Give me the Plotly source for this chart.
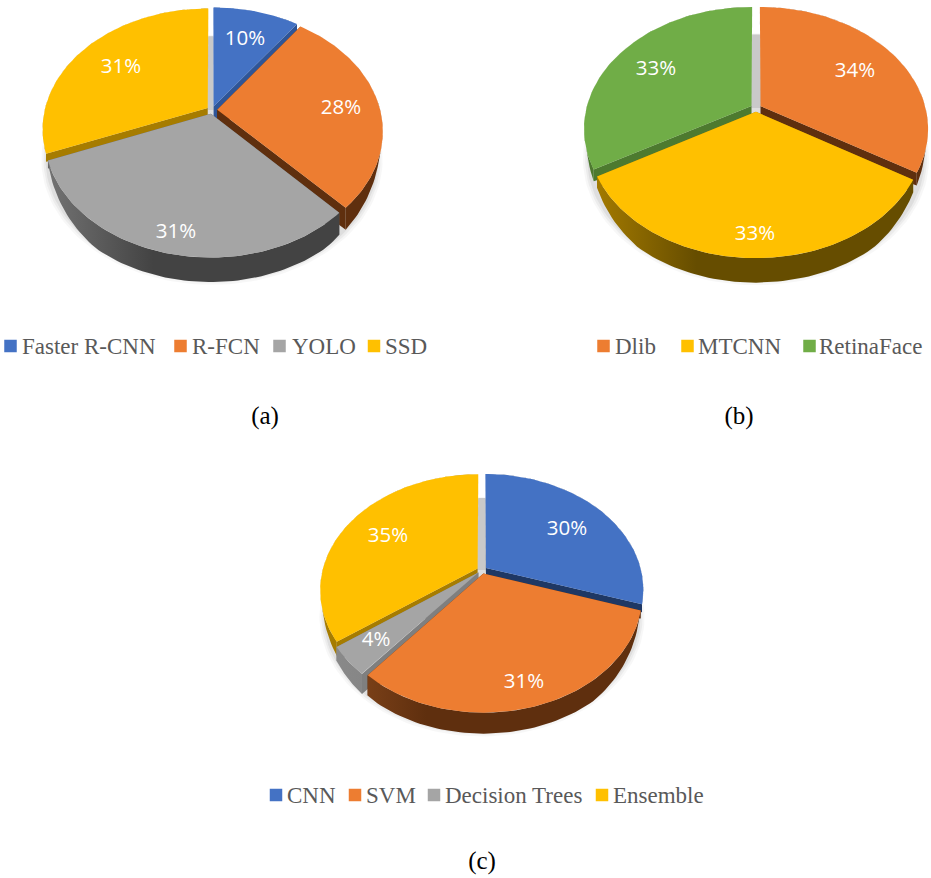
import numpy as np
import plotly.graph_objects as go

# ---- data ----
cats_a = ["Faster R-CNN", "R-FCN", "YOLO", "SSD"]
vals_a = [10, 28, 31, 31]
cats_b = ["Dlib", "MTCNN", "RetinaFace"]
vals_b = [33.6, 33.2, 33.2]
cats_c = ["CNN", "SVM", "Decision Trees", "Ensemble"]
vals_c = [30, 31, 4, 35]
captions = ["(a)", "(b)", "(c)"]

# ---- styles ----
BLUE, ORANGE, GREY, YELLOW, GREEN = "#4472c4", "#ed7d31", "#a5a5a5", "#ffc000", "#70ad47"
TEXT_FONT = "Open Sans"
LEG_FONT = "Liberation Serif"

pies = [
    dict(cats=cats_a, vals=vals_a, cx=212, cy=110, a=163, b=117.4, k=0.174, h=24.5, e=0.032,
         colors=[BLUE, ORANGE, GREY, YELLOW],
         band=["#2f5597", "#5f2f0e", "#636363", "#a67c00"],
         rim=[("#2f5597", "#2f5597"), ("#7a3f17", "#5f2f0e"), ("#727272", "#434343"), ("#a67c00", "#a67c00")],
         order=[0, 3, 1, 2],
         label_xy=[(245, 40), (341, 109), (176, 233), (121, 68)],
         leg_sq=[10.5, 180.5, 279.5, 374], leg_tx=[22, 192, 292, 385], leg_y=348,
         cap_xy=(265, 418)),
    dict(cats=cats_b, vals=vals_b, cx=756, cy=108, a=165, b=118, k=0.183, h=24.5, e=0.032,
         colors=[ORANGE, YELLOW, GREEN],
         band=["#5f2f0e", "#a67c00", "#4d7a2f"],
         rim=[("#7a3f17", "#5f2f0e"), ("#a67c00", "#664d00"), ("#4d7a2f", "#4d7a2f")],
         order=[0, 2, 1],
         label_xy=[(855, 72), (755, 235), (656, 70)],
         leg_sq=[603.5, 687.5, 809.5], leg_tx=[615, 698, 819], leg_y=348,
         cap_xy=(739, 418)),
    dict(cats=cats_c, vals=vals_c, cx=482, cy=570, a=155, b=112, k=0.185, h=21, e=0.032,
         colors=[BLUE, ORANGE, GREY, YELLOW],
         band=["#1f3864", "#5f2f0e", "#7f7f7f", "#a67c00"],
         rim=[("#1f3864", "#1f3864"), ("#8a4a1e", "#5f2f0e"), ("#8a8a8a", "#7f7f7f"), ("#a67c00", "#a67c00")],
         order=[0, 3, 2, 1],
         label_xy=[(567, 530), (524, 683), (376, 641), (388, 537)],
         leg_sq=[276, 355, 434, 602], leg_tx=[287, 366, 445, 613], leg_y=797,
         cap_xy=(482, 863)),
]


def project(p, u, v, drop=0.0):
    """Perspective projection of a unit-disc point onto the page (pixel axes)."""
    u, v = np.asarray(u, float), np.asarray(v, float)
    w = 1 + p["k"] * v
    x = p["cx"] + p["a"] * u / w
    y = p["cy"] - p["b"] * v / w + drop
    return x, y


def rim_drop(p, t):
    """Visible rim height: none at the back and sides, full at the front."""
    return p["h"] * np.clip((-np.cos(t) - 0.37) / 0.43, 0, 1) ** 0.6


def poly(xs, ys, color, gradient=None):
    kw = {}
    if gradient:
        kw["fillgradient"] = gradient
    else:
        kw["fillcolor"] = color
    return go.Scatter(x=list(xs), y=list(ys), mode="lines", fill="toself",
                      line=dict(width=0), hoverinfo="skip", showlegend=False, **kw)


fig = go.Figure()

for p in pies:
    fr = np.array(p["vals"], float) / sum(p["vals"])
    ends = np.cumsum(fr) * 2 * np.pi
    starts = ends - fr * 2 * np.pi
    mids = (starts + ends) / 2

    # soft ground shadow
    t = np.linspace(0, 2 * np.pi, 180)
    for grow, alpha in [(1.03, 0.03), (1.018, 0.045), (1.006, 0.06)]:
        sx, sy = project(p, grow * np.sin(t), grow * np.cos(t), p["h"] + 3)
        fig.add_trace(poly(sx, sy, f"rgba(0,0,0,{alpha})"))

    # pale core seen through the gap at the back
    e = p["e"]
    g_u = [e * np.sin(mids[-1]), e * np.sin(mids[0]), e * np.sin(mids[0]), e * np.sin(mids[-1])]
    g_v = [0.0, 0.0, 0.98, 0.98]
    gx, gy = project(p, g_u, g_v)
    gy = np.array(gy) + np.array([0, 0, p["h"], p["h"]])
    fig.add_trace(poly(gx, gy, "#c9c9c9"))

    for i in p["order"]:
        ox, oy = e * np.sin(mids[i]), e * np.cos(mids[i])
        t = np.linspace(starts[i], ends[i], 80)
        u, v = ox + np.sin(t), oy + np.cos(t)
        xa, ya = project(p, u, v)
        x0, y0 = project(p, ox, oy)
        drop = rim_drop(p, t)
        xd, yd = project(p, u, v, drop)
        x0d, y0d = project(p, ox, oy, p["h"])

        # radial cut faces
        for j in (0, -1):
            ed = max(drop[j], 8)
            fig.add_trace(poly([x0, xa[j], xa[j], x0d], [y0, ya[j], ya[j] + ed, y0d], p["band"][i]))

        # outer rim
        light, dark = p["rim"][i]
        x_left = p["cx"] - p["a"]
        grad = dict(type="horizontal", start=x_left, stop=p["cx"] + p["a"],
                    colorscale=[[0, light], [0.32, dark], [1, dark]])
        fig.add_trace(poly(np.r_[xa, xd[::-1]], np.r_[ya, yd[::-1]], dark, grad))

        # top surface
        fig.add_trace(poly(np.r_[x0, xa], np.r_[y0, ya], p["colors"][i]))

    # percentage labels
    lx, ly = zip(*p["label_xy"])
    fig.add_trace(go.Scatter(x=lx, y=ly, mode="text", text=[f"{v:.0f}%" for v in p["vals"]],
                             textposition="middle center", hoverinfo="skip", showlegend=False,
                             textfont=dict(family=TEXT_FONT, size=20.5, color="white")))

    # legend
    fig.add_trace(go.Scatter(x=p["leg_sq"], y=[p["leg_y"] - 2] * len(p["cats"]), mode="markers",
                             marker=dict(symbol="square", size=12.5, color=p["colors"], line=dict(width=0)),
                             hoverinfo="skip", showlegend=False))
    fig.add_trace(go.Scatter(x=p["leg_tx"], y=[p["leg_y"]] * len(p["cats"]), mode="text", text=p["cats"],
                             textposition="middle right", hoverinfo="skip", showlegend=False,
                             textfont=dict(family=LEG_FONT, size=23, color="#595959")))

# captions
fig.add_trace(go.Scatter(x=[p["cap_xy"][0] for p in pies], y=[p["cap_xy"][1] for p in pies],
                         mode="text", text=captions, textposition="middle center",
                         hoverinfo="skip", showlegend=False,
                         textfont=dict(family=LEG_FONT, size=25, color="black")))

fig.update_layout(width=931, height=878, autosize=False,
                  margin=dict(l=0, r=0, t=0, b=0),
                  paper_bgcolor="white", plot_bgcolor="white", showlegend=False,
                  xaxis=dict(range=[0, 931], visible=False, fixedrange=True),
                  yaxis=dict(range=[878, 0], visible=False, fixedrange=True))
fig.write_html("out.html", config={"displayModeBar": False},
               post_script="document.body.style.margin='0';document.body.style.overflow='hidden';")
